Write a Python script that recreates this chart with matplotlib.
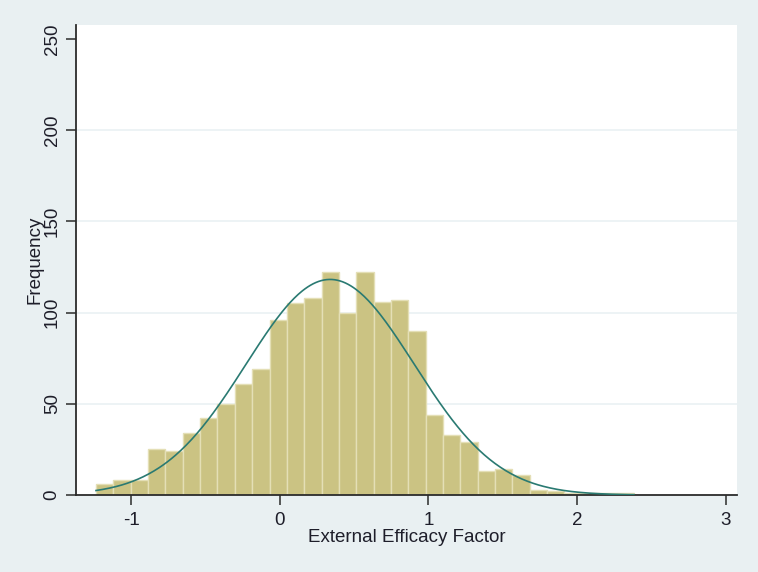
import numpy as np
import matplotlib
matplotlib.use("Agg")
import matplotlib.pyplot as plt

plt.rcParams['font.family'] = ['Liberation Sans', 'DejaVu Sans']

# Histogram data (31 bins, Stata-style)
bin_start = -1.2354
bin_width = 0.11668
counts = [6, 8, 8, 25, 24, 34, 42, 50, 61, 69, 96, 105, 108, 122, 100,
          122, 106, 107, 90, 44, 33, 29, 13, 14, 11, 3, 2, 1, 1, 1, 1]
x_ticks = [-1, 0, 1, 2, 3]
y_ticks = [0, 50, 100, 150, 200, 250]
x_label = "External Efficacy Factor"
y_label = "Frequency"

counts = np.array(counts, dtype=float)
edges = bin_start + bin_width * np.arange(len(counts) + 1)
mids = (edges[:-1] + edges[1:]) / 2
N = counts.sum()
mu = (counts * mids).sum() / N
sd = np.sqrt((counts * (mids - mu) ** 2).sum() / (N - 1))

bg = '#E9F0F2'
fig = plt.figure(figsize=(7.58, 5.72), dpi=100, facecolor=bg)
ax = fig.add_axes([76/758, 1-495/572, (737-76)/758, (495-25)/572])
ax.set_facecolor('white')

for y in y_ticks[1:-1]:
    ax.axhline(y, color='#EAF1F4', lw=1.2, zorder=0)

ax.bar(edges[:-1], counts, width=bin_width, align='edge',
       color='#CBC383', edgecolor='#E4DFB6', linewidth=1.0, zorder=2)

xs = np.linspace(edges[0], edges[-1], 400)
ys = N * bin_width / (sd * np.sqrt(2 * np.pi)) * np.exp(-0.5 * ((xs - mu) / sd) ** 2)
ax.plot(xs, ys, color='#2A7A72', lw=1.2, zorder=3)

ax.set_xlim(-1.370, 3.075)
ax.set_ylim(0, 257.7)
ax.set_xticks(x_ticks)
ax.set_yticks(y_ticks)
ax.set_xticklabels([str(t) for t in x_ticks])
ax.set_yticklabels([str(t) for t in y_ticks], rotation=90, va='center')

for s in ['top', 'right']:
    ax.spines[s].set_visible(False)
for s in ['left', 'bottom']:
    ax.spines[s].set_color('#2B2B2B')
    ax.spines[s].set_linewidth(1.3)
ax.tick_params(axis='both', direction='out', length=7, width=1.1,
               color='#2B2B2B', labelsize=13.5, labelcolor='#1E1E2A')
ax.tick_params(axis='x', pad=5)
ax.tick_params(axis='y', pad=4)

ax.set_xlabel(x_label, fontsize=13.5, color='#1E1E2A', labelpad=0)
ax.set_ylabel(y_label, fontsize=13.5, color='#1E1E2A', labelpad=0)

fig.savefig('out.png', dpi=100, facecolor=bg)
